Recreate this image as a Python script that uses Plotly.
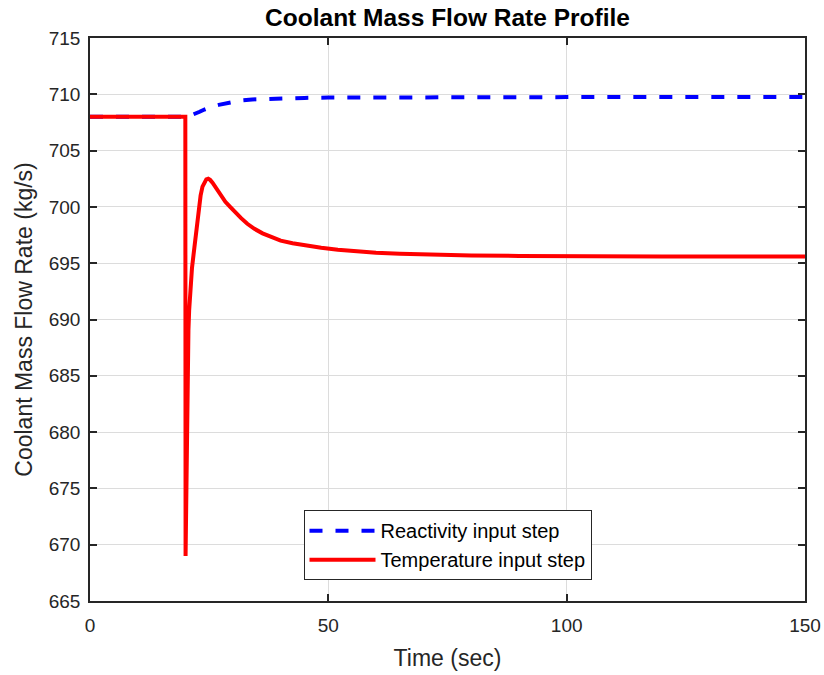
import plotly.graph_objects as go

# ---- data ----
t_react = [0, 20, 21, 22, 23, 24, 25, 26, 27, 28, 29, 30, 32, 34, 36, 38, 41, 45, 50, 60, 80, 100, 150]
m_react = [708.0, 708.0, 708.1, 708.25, 708.45, 708.65, 708.82, 708.96, 709.06, 709.15, 709.27,
           709.36, 709.47, 709.54, 709.58, 709.61, 709.65, 709.68, 709.71, 709.73, 709.74,
           709.75, 709.75]

t_temp = [0, 20, 20.05, 20.12, 20.2, 20.3, 20.4, 20.5, 20.65, 20.8, 21.0, 21.4, 21.9, 22.3,
          22.6, 22.9, 23.2, 23.6, 24.0, 24.4, 24.8, 25.2, 25.7, 26.5, 27.4, 28.4, 29.4, 30.5,
          31.7, 33.0, 34.5, 36.2, 38.0, 40.0, 42.5, 45.4, 48.5, 52, 56, 60, 65, 70, 80, 90,
          100, 120, 150]
m_temp = [708.0, 708.0, 669.0, 672.5, 676.0, 680.0, 683.5, 686.5, 689.0, 690.8, 692.5, 694.6,
          696.4, 698.0, 699.2, 700.2, 701.0, 701.8, 702.25, 702.45, 702.5, 702.4, 702.15,
          701.6, 701.0, 700.45, 700.0, 699.5, 699.0, 698.5, 698.05, 697.65, 697.3, 697.0,
          696.78, 696.55, 696.38, 696.2, 696.05, 695.93, 695.84, 695.77, 695.69, 695.65,
          695.62, 695.6, 695.6]

x_ticks = [0, 50, 100, 150]
y_ticks = [665, 670, 675, 680, 685, 690, 695, 700, 705, 710, 715]

FONT = "Liberation Sans, Arial, sans-serif"
AX = "#262626"
GRID = "#dcdcdc"

fig = go.Figure()
fig.add_trace(go.Scatter(x=t_react, y=m_react, mode="lines", name="Reactivity input step",
                         line=dict(color="#0000FF", width=4, dash="13px,13px")))
fig.add_trace(go.Scatter(x=t_temp, y=m_temp, mode="lines", name="Temperature input step",
                         line=dict(color="#FF0000", width=4)))

axis_common = dict(
    showline=True, linecolor=AX, linewidth=1.5, mirror="ticks",
    ticks="inside", ticklen=7, tickwidth=1.5, tickcolor=AX,
    showgrid=True, gridcolor=GRID, gridwidth=1,
    zeroline=False, tickfont=dict(family=FONT, size=19, color=AX),
)

fig.update_xaxes(range=[0, 150], tickvals=x_ticks, ticktext=[str(v) for v in x_ticks],
                 title=dict(text="Time (sec)", font=dict(family=FONT, size=23, color=AX), standoff=15),
                 ticklabelstandoff=6, **axis_common)
fig.update_yaxes(range=[665, 715], tickvals=y_ticks, ticktext=[str(v) for v in y_ticks],
                 title=dict(text="Coolant Mass Flow Rate (kg/s)", font=dict(family=FONT, size=23, color=AX), standoff=10),
                 ticklabelstandoff=4, **axis_common)

fig.update_layout(
    width=824, height=675,
    margin=dict(l=90, r=19, t=38, b=74, autoexpand=False),
    paper_bgcolor="white", plot_bgcolor="white",
    title=dict(text="<b>Coolant Mass Flow Rate Profile</b>", x=0.5, xref="paper", xanchor="center",
               y=1 - 17 / 675, yref="container", yanchor="middle",
               font=dict(family=FONT, size=24.5, color="black")),
    legend=dict(x=0.5, xanchor="center", y=0.037, yanchor="bottom",
                bgcolor="white", bordercolor=AX, borderwidth=1,
                font=dict(family=FONT, size=20, color="black"),
                itemwidth=66, tracegroupgap=0),
    showlegend=True,
)

fig.write_html("out.html")
